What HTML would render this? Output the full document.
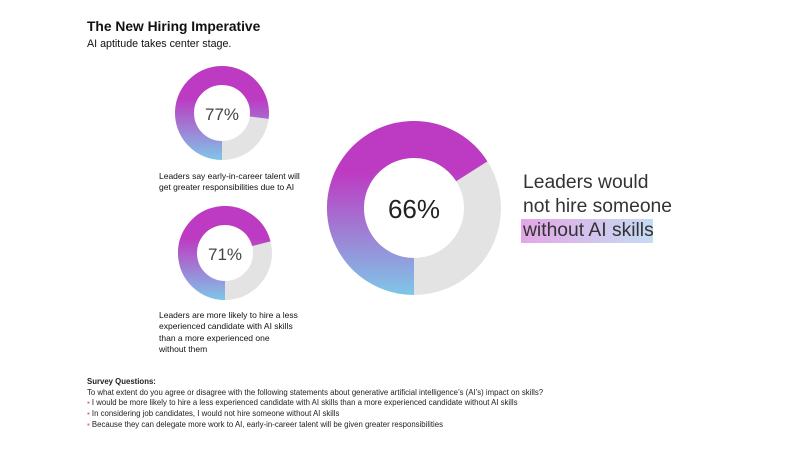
<!DOCTYPE html>
<html><head><meta charset="utf-8"><style>
body{margin:0;width:800px;height:450px;background:#fff;font-family:"Liberation Sans",sans-serif;color:#111;position:relative;overflow:hidden}
.a{position:absolute;white-space:nowrap}
</style></head><body>
<div class="a" style="left:87px;top:19px;font-size:13.8px;font-weight:bold">The New Hiring Imperative</div>
<div class="a" style="left:87px;top:38px;font-size:10.7px">AI aptitude takes center stage.</div>
<svg class="a" style="left:0;top:0" width="800" height="450">
<defs>
<linearGradient id="g1" gradientUnits="userSpaceOnUse" x1="0" y1="66" x2="0" y2="160"><stop offset="0.35" stop-color="#bd3bc2"/><stop offset="1" stop-color="#7fc6e8"/></linearGradient>
<linearGradient id="g2" gradientUnits="userSpaceOnUse" x1="0" y1="206" x2="0" y2="300"><stop offset="0.35" stop-color="#bd3bc2"/><stop offset="1" stop-color="#7fc6e8"/></linearGradient>
<linearGradient id="g3" gradientUnits="userSpaceOnUse" x1="0" y1="121" x2="0" y2="295"><stop offset="0.3" stop-color="#bd3bc2"/><stop offset="1" stop-color="#7fc6e8"/></linearGradient>
<linearGradient id="hl" x1="0" y1="0" x2="1" y2="0"><stop offset="0" stop-color="#e3a6e6"/><stop offset="1" stop-color="#c5dcf2"/></linearGradient>
</defs>
<circle cx="222" cy="113" r="37.5" fill="none" stroke="#e3e3e3" stroke-width="19"/>
<path d="M222 150.5 A37.5 37.5 0 1 1 259.2 117.7" fill="none" stroke="url(#g1)" stroke-width="19"/>
<circle cx="225" cy="253" r="37.5" fill="none" stroke="#e3e3e3" stroke-width="19"/>
<path d="M225 290.5 A37.5 37.5 0 1 1 261.3 243.7" fill="none" stroke="url(#g2)" stroke-width="19"/>
<circle cx="414" cy="208" r="68.5" fill="none" stroke="#e3e3e3" stroke-width="37"/>
<path d="M414 276.5 A68.5 68.5 0 1 1 471.8 171.3" fill="none" stroke="url(#g3)" stroke-width="37"/>
<text x="222" y="120" font-size="17" text-anchor="middle" fill="#444" font-family="Liberation Sans">77%</text>
<text x="225" y="260" font-size="17" text-anchor="middle" fill="#444" font-family="Liberation Sans">71%</text>
<text x="414" y="218" font-size="26" text-anchor="middle" fill="#222" font-family="Liberation Sans">66%</text>
<rect x="521" y="219" width="132" height="24" fill="url(#hl)"/>
</svg>
<div class="a" style="left:159px;top:171px;font-size:8.5px;line-height:11px">Leaders say early-in-career talent will<br>get greater responsibilities due to AI</div>
<div class="a" style="left:159px;top:310px;font-size:8.5px;line-height:11.3px">Leaders are more likely to hire a less<br>experienced candidate with AI skills<br>than a more experienced one<br>without them</div>
<div class="a" style="left:523px;top:171px;font-size:19.3px;line-height:24px;color:#333">Leaders would<br>not hire someone<br>without AI skills</div>
<div class="a" style="left:87px;top:377px;font-size:7.8px;line-height:10.7px;color:#222"><b>Survey Questions:</b><br>To what extent do you agree or disagree with the following statements about generative artificial intelligence’s (AI’s) impact on skills?<br><span style="color:#c77">▪</span> I would be more likely to hire a less experienced candidate with AI skills than a more experienced candidate without AI skills<br><span style="color:#c77">▪</span> In considering job candidates, I would not hire someone without AI skills<br><span style="color:#c77">▪</span> Because they can delegate more work to AI, early-in-career talent will be given greater responsibilities</div>
</body></html>
